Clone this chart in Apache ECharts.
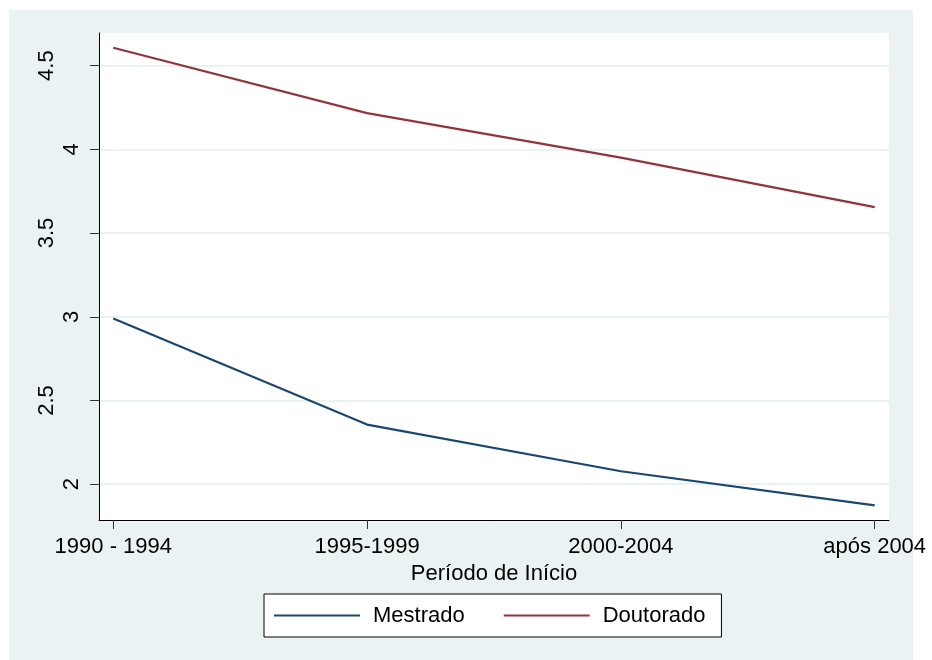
<!DOCTYPE html>
<html>
<head>
<meta charset="utf-8">
<script src="https://cdn.jsdelivr.net/npm/echarts@6/dist/echarts.min.js"></script>
<style>
  html, body { margin: 0; padding: 0; background: #ffffff; }
  #chart { width: 932px; height: 660px; }
</style>
</head>
<body>
<div id="chart"></div>
<script>
// Periods of start
const categories = ['1990 - 1994', '1995-1999', '2000-2004', 'após 2004'];
// Mean values per period
const mestrado = [2.99, 2.356, 2.077, 1.873];
const doutorado = [4.607, 4.216, 3.951, 3.655];
// Y tick labels: whole numbers and halves are laid out on two stacked axes
const yTicksWhole = [2, 3, 4];
const yTicksHalf = [2.5, 3.5, 4.5];

const FONT = "'Liberation Sans', Arial, sans-serif";
const BG = '#EAF2F3';

const toPoints = vals => vals.map((v, i) => [i, v]);
const catIdx = categories.map((_, i) => i);

const yBase = {
  type: 'value',
  position: 'left',
  min: 1.786,
  max: 4.695,
  axisLine: { show: false, onZero: false },
  axisTick: { show: true, length: 9, lineStyle: { color: '#333', width: 1 } },
  splitLine: { show: true, lineStyle: { color: BG, width: 2 } },
  axisLabel: { rotate: 90, fontFamily: FONT, fontSize: 22, color: '#000' }
};

const chart = echarts.init(document.getElementById('chart'), null, { renderer: 'canvas' });
chart.setOption({
  animation: false,
  backgroundColor: '#ffffff',
  graphic: [{
    type: 'rect', z: -10, silent: true,
    shape: { x: 9, y: 10, width: 904, height: 650 },
    style: { fill: BG }
  }],
  grid: {
    left: 99, right: 43, top: 33, bottom: 140,
    show: true, backgroundColor: '#ffffff', borderWidth: 0
  },
  xAxis: {
    type: 'value',
    min: -0.0563,
    max: 3.0563,
    name: 'Período de Início',
    nameLocation: 'middle',
    nameGap: 38,
    nameTextStyle: { fontFamily: FONT, fontSize: 22, color: '#000' },
    axisLine: { show: true, onZero: false, lineStyle: { color: '#000', width: 1 } },
    axisTick: { show: true, length: 9, customValues: catIdx, lineStyle: { color: '#333', width: 1 } },
    axisLabel: {
      customValues: catIdx,
      margin: 16,
      fontFamily: FONT, fontSize: 22, color: '#000',
      formatter: v => categories[Math.round(v)]
    },
    splitLine: { show: false }
  },
  yAxis: [
    Object.assign({}, yBase, {
      axisLine: { show: true, onZero: false, lineStyle: { color: '#000', width: 1 } },
      axisTick: Object.assign({}, yBase.axisTick, { customValues: yTicksWhole }),
      axisLabel: Object.assign({}, yBase.axisLabel, { customValues: yTicksWhole, margin: 16 })
    }),
    Object.assign({}, yBase, {
      axisTick: Object.assign({}, yBase.axisTick, { customValues: yTicksHalf }),
      axisLabel: Object.assign({}, yBase.axisLabel, { customValues: yTicksHalf, margin: 41 })
    })
  ],
  legend: {
    left: 264,
    top: 594,
    padding: [10.5, 16, 10.5, 10],
    itemGap: 39,
    itemWidth: 86,
    itemHeight: 2,
    icon: 'rect',
    backgroundColor: '#ffffff',
    borderColor: '#000',
    borderWidth: 1,
    borderRadius: 0,
    textStyle: { fontFamily: FONT, fontSize: 22, color: '#000', padding: [0, 0, 0, 8] },
    data: ['Mestrado', 'Doutorado']
  },
  series: [
    {
      name: 'Mestrado', type: 'line', yAxisIndex: 0,
      data: toPoints(mestrado),
      showSymbol: false, symbol: 'none',
      color: '#1a476f',
      lineStyle: { color: '#1a476f', width: 2.2 }
    },
    {
      name: 'Doutorado', type: 'line', yAxisIndex: 0,
      data: toPoints(doutorado),
      showSymbol: false, symbol: 'none',
      color: '#90353b',
      lineStyle: { color: '#90353b', width: 2.2 }
    }
  ]
});
</script>
</body>
</html>
